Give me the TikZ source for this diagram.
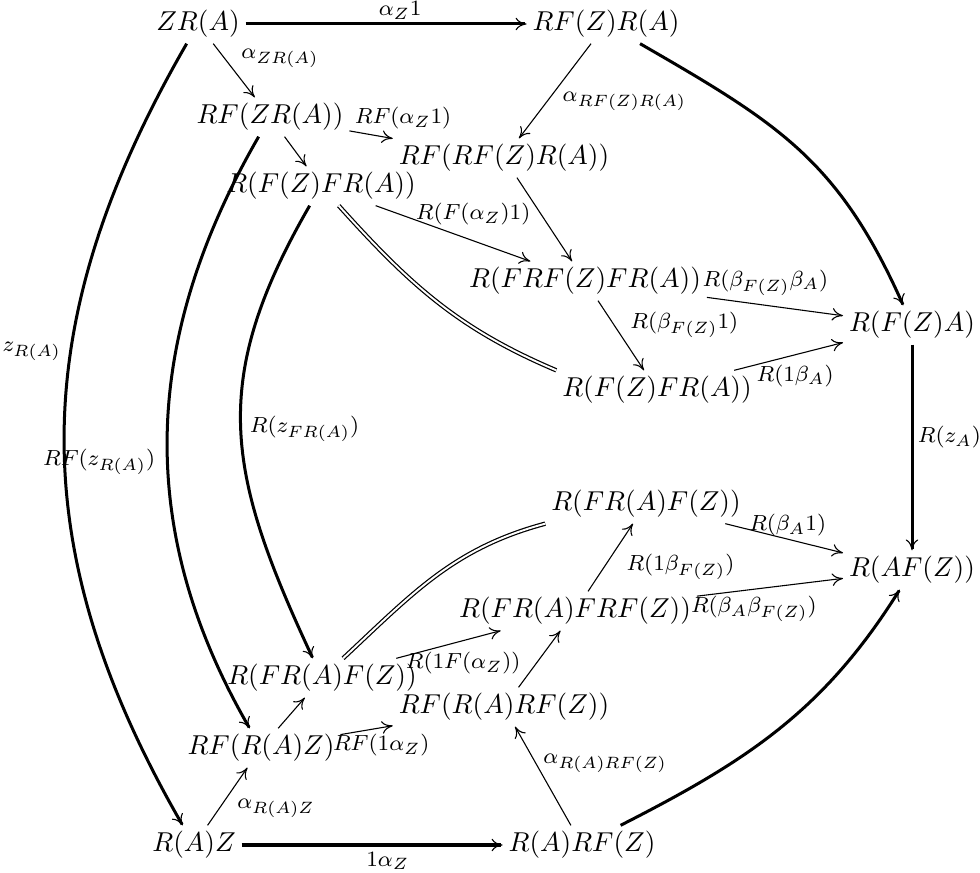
\documentclass[tikz,border=0pt]{standalone}
\usepackage{amsmath,amssymb}
\usepackage{tikz}
\usetikzlibrary{arrows.meta,positioning}

\begin{document}
\begin{tikzpicture}[x=0.366pt,y=0.366pt,
  ob/.style={inner sep=2pt},
  lb/.style={font=\footnotesize,inner sep=1pt},
  ar/.style={-{Computer Modern Rightarrow[length=4pt,width=4.6pt,line width=.4pt]},line width=.4pt},
  tar/.style={ar,line width=1.1pt},
  eq/.style={double,double distance=.7pt,line width=.45pt}]
\useasboundingbox (0,0) rectangle (980,-873);
\node[ob] (zra) at (198,-24) {$ZR(A)$};
\node[ob] (rfzra) at (606,-24) {$RF(Z)R(A)$};
\node[ob] (rfzr) at (270,-117) {$RF(ZR(A))$};
\node[ob] (rfrf) at (504,-158) {$RF(RF(Z)R(A))$};
\node[ob] (fzfr) at (321,-186) {$R(F(Z)FR(A))$};
\node[ob] (frf) at (585,-281) {$R(FRF(Z)FR(A))$};
\node[ob] (fza) at (912,-325) {$R(F(Z)A)$};
\node[ob] (fzfr2) at (657,-390) {$R(F(Z)FR(A))$};
\node[ob] (fraf) at (646,-504) {$R(FR(A)F(Z))$};
\node[ob] (afz) at (912,-570) {$R(AF(Z))$};
\node[ob] (frafrf) at (575,-611) {$R(FR(A)FRF(Z))$};
\node[ob] (fraf2) at (322,-678) {$R(FR(A)F(Z))$};
\node[ob] (rfrarf) at (504,-707) {$RF(R(A)RF(Z))$};
\node[ob] (rfraz) at (261,-748) {$RF(R(A)Z)$};
\node[ob] (raz) at (194,-845) {$R(A)Z$};
\node[ob] (rarf) at (582,-845) {$R(A)RF(Z)$};
% top half
\draw[tar] (zra) -- node[lb,above=.2pt,pos=.55] {$\alpha_Z1$} (rfzra);
\draw[ar] (zra) -- node[lb,right=5pt,pos=.27] {$\alpha_{ZR(A)}$} (rfzr);
\draw[ar] (rfzr) -- node[lb,anchor=south west,pos=.05,yshift=-.5pt] {$RF(\alpha_Z1)$} (rfrf);
\draw[ar] (rfzra) -- node[lb,right=4.5pt,pos=.61] {$\alpha_{RF(Z)R(A)}$} (rfrf);
\draw[ar] (rfzr) -- (fzfr);
\draw[ar] (fzfr) -- node[lb,above=4.4pt,pos=.63] {$R(F(\alpha_Z)1)$} (frf);
\draw[ar] (rfrf) -- (frf);
\draw[ar] (frf) -- node[lb,above=2.5pt,pos=.43] {$R(\beta_{F(Z)}\beta_A)$} (fza);
\draw[ar] (frf) -- node[lb,right=4.8pt,pos=.35] {$R(\beta_{F(Z)}1)$} (fzfr2);
\draw[ar] (fzfr2) -- node[lb,below=2.4pt,pos=.56] {$R(1\beta_A)$} (fza);
\draw[eq] (fzfr) to[out=-48,in=157] (fzfr2.north west);
\draw[tar] (rfzra) to[out=-30,in=114,looseness=1.1] (fza);
\draw[tar] (fza) -- node[lb,right=.6pt,pos=.45] {$R(z_A)$} (afz);
% bottom half
\draw[ar] (fraf) -- node[lb,above,pos=.53] {$R(\beta_A1)$} (afz);
\draw[ar] (frafrf) -- node[lb,below=1.3pt,pos=.39] {$R(\beta_A\beta_{F(Z)})$} (afz);
\draw[ar] (frafrf) -- node[lb,right=7pt,pos=.36] {$R(1\beta_{F(Z)})$} (fraf);
\draw[ar] (fraf2) -- node[lb,below=3pt,pos=.64] {$R(1F(\alpha_Z))$} (frafrf);
\draw[eq] (fraf2) to[out=43,in=195] (fraf.south west);
\draw[ar] (rfrarf) -- (frafrf);
\draw[ar] (rfraz) -- (fraf2);
\draw[ar] (rfraz) -- node[lb,below=1.3pt,pos=.78] {$RF(1\alpha_Z)$} (rfrarf);
\draw[ar] (raz) -- node[lb,right=5.3pt,pos=.3] {$\alpha_{R(A)Z}$} (rfraz);
\draw[tar] (raz) -- node[lb,below=1pt,pos=.56] {$1\alpha_Z$} (rarf);
\draw[ar] (rarf) -- node[lb,right=1.6pt,pos=.63] {$\alpha_{R(A)RF(Z)}$} (rfrarf);
\draw[tar] (rarf) to[out=27,in=238] (afz);
% the three arcs on the left
\draw[tar] (zra) to[out=240,in=120,looseness=1.05] node[lb,left=2pt,pos=.39] {$z_{R(A)}$} (raz);
\draw[tar] (rfzr) to[out=240,in=120] node[lb,left=3pt,pos=.55] {$RF(z_{R(A)})$} (rfraz);
\draw[tar] (fzfr) to[out=240,in=115,looseness=1.15] node[lb,right=1.8pt,pos=.5] {$R(z_{FR(A)})$} (fraf2);
\end{tikzpicture}
\end{document}
